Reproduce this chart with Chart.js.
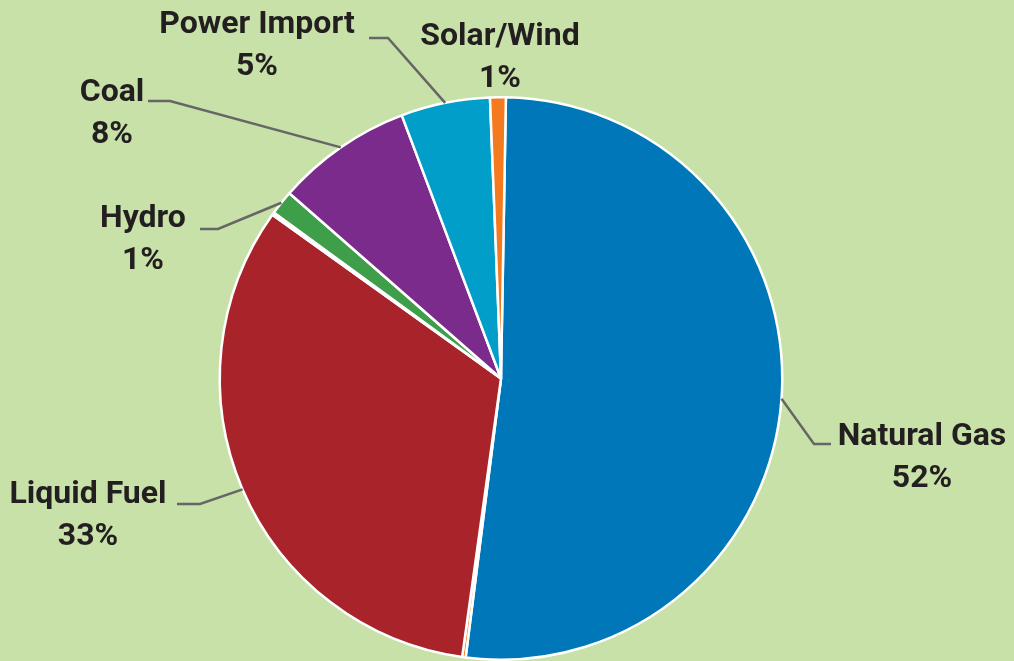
<!DOCTYPE html>
<html>
<head>
<meta charset="utf-8">
<script src="https://cdn.jsdelivr.net/npm/chart.js@4"></script>
<style>
  html, body { margin: 0; padding: 0; background: #c8e1a8; }
  #wrap { width: 1014px; height: 661px; }
</style>
</head>
<body>
<div id="wrap"><canvas id="energyPie" width="1014" height="661"></canvas></div>
<script>
// Energy mix data (clockwise from 12 o'clock)
const categories = ['Natural Gas', 'Other', 'Liquid Fuel', 'Other (minor)', 'Hydro', 'Coal', 'Power Import', 'Solar/Wind'];
const shares = [51.6, 0.2, 32.6, 0.15, 1.4, 7.8, 5.1, 0.9];
const shareLabels = ['52%', '', '33%', '', '1%', '8%', '5%', '1%'];
const sliceColors = ['#0077b8', '#f47a20', '#a8232a', '#c8e1a8', '#3e9e4a', '#7a2b8c', '#009ec9', '#f47a20'];

// where each label sits, with the elbow of its leader line
const labelLayout = {
  'Natural Gas':  { text: [922, 437], elbow: [814, 444], end: [831, 444] },
  'Liquid Fuel':  { text: [88, 495],  elbow: [200, 504], end: [177, 504] },
  'Hydro':        { text: [143, 219], elbow: [218, 229], end: [200, 229] },
  'Coal':         { text: [112, 93],  elbow: [170, 101], end: [148, 101] },
  'Power Import': { text: [257, 25],  elbow: [388, 38],  end: [369, 38] },
  'Solar/Wind':   { text: [500, 37] }
};

// Draws the labels and leader lines
const pieLabels = {
  id: 'pieLabels',
  afterDraw(chart) {
    const ctx = chart.ctx;
    const arcs = chart.getDatasetMeta(0).data;
    ctx.save();
    arcs.forEach((arc, i) => {
      const name = categories[i];
      const lay = labelLayout[name];
      if (!lay) return;
      if (lay.elbow) {
        const mid = (arc.startAngle + arc.endAngle) / 2;
        const sx = arc.x + Math.cos(mid) * arc.outerRadius;
        const sy = arc.y + Math.sin(mid) * arc.outerRadius;
        ctx.beginPath();
        ctx.moveTo(sx, sy);
        ctx.lineTo(lay.elbow[0], lay.elbow[1]);
        ctx.lineTo(lay.end[0], lay.end[1]);
        ctx.strokeStyle = '#666666';
        ctx.lineWidth = 2.5;
        ctx.stroke();
      }
      ctx.fillStyle = '#231f20';
      ctx.font = 'bold 32px Roboto';
      ctx.textAlign = 'center';
      ctx.textBaseline = 'middle';
      ctx.fillText(name, lay.text[0], lay.text[1]);
      ctx.fillText(shareLabels[i], lay.text[0], lay.text[1] + 42);
    });
    ctx.restore();
  }
};

const energyPie = new Chart(document.getElementById('energyPie'), {
  type: 'pie',
  data: {
    labels: categories,
    datasets: [{
      data: shares,
      backgroundColor: sliceColors,
      borderColor: '#ffffff',
      borderWidth: 2.5
    }]
  },
  options: {
    responsive: false,
    animation: false,
    rotation: 1,
    layout: { padding: { top: 96, bottom: 0, left: 218, right: 230 } },
    plugins: {
      legend: { display: false },
      tooltip: { enabled: false }
    }
  },
  plugins: [pieLabels]
});
</script>
</body>
</html>
